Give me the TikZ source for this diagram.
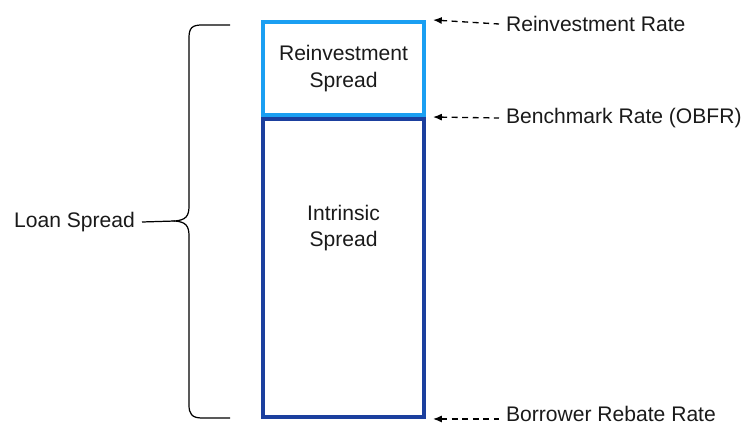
\documentclass[tikz,border=0pt]{standalone}
\usepackage{fontspec}
\setmainfont{Liberation Sans}
\usepackage{xcolor}
\definecolor{fig-light}{HTML}{1A9FF2}
\definecolor{fig-dark}{HTML}{1B3F9E}
\definecolor{fig-ink}{HTML}{1A1A1A}
\usetikzlibrary{arrows.meta,positioning,calc}

\begin{document}
\begin{tikzpicture}[
    x=0.02cm, y=-0.02cm,
    font=\fontsize{12}{15}\selectfont,
    every node/.style={text=fig-ink},
    layer/.style={rectangle, line width=2.3pt, minimum width=3.22cm, align=center, inner sep=0pt},
    rate/.style={anchor=west, inner sep=1pt},
    ratearrow/.style={{Latex[length=5pt,width=4pt]}-, draw=black, line width=0.75pt, dash pattern=on 3.4pt off 2.6pt},
    brace/.style={draw=black, line width=0.7pt},
]
\path[use as bounding box] (0,0) rectangle (748,425);

\node[layer, draw=fig-dark, minimum height=5.96cm] (ispread) at (343.5,268) {};
\node[layer, draw=fig-light, minimum height=1.86cm] (rspread) at (343.5,68.5) {Reinvestment\\Spread};
\node[align=center, inner sep=0pt] (itext) at (343.5,228) {Intrinsic\\Spread};

\node[rate] (rrate) at (504,24) {Reinvestment Rate};
\node[rate] (brate) at (504,118) {Benchmark Rate (OBFR)};
\node[rate] (orate) at (504,414) {Borrower Rebate Rate};
\draw[ratearrow] ([xshift=0.14cm]rspread.north east) -- ([xshift=-0.1cm]rrate.west);
\draw[ratearrow] ([xshift=0.14cm]ispread.north east) -- ([xshift=-0.1cm]brate.west);
\draw[ratearrow] ([xshift=0.14cm]ispread.south east) -- ([xshift=-0.1cm]orate.west |- ispread.south);

\coordinate (tip) at (175,221);
\node[anchor=east, inner sep=1pt] (lspread) at (137,222) {Loan Spread};
\draw[brace] (230,25) -- (202,25) .. controls (192,25) and (189,28) .. (189,38) -- (189,206)
    .. controls (189,216) and (186,220) .. (tip) .. controls (186,222) and (189,226) .. (189,236)
    -- (189,405) .. controls (189,414) and (192,418) .. (202,418) -- (230,418);
\draw[brace] (lspread.east) ++(0.1cm,0) -- (tip);
\end{tikzpicture}
\end{document}
